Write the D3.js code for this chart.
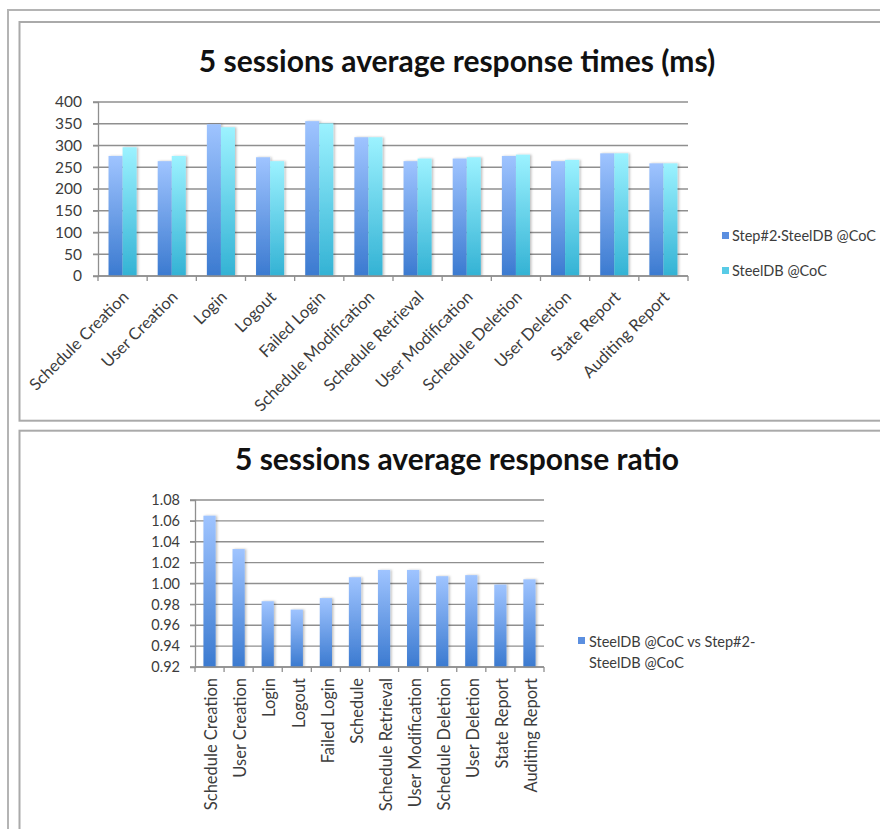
<!DOCTYPE html>
<html>
<head>
<meta charset="utf-8">
<script src="https://cdn.jsdelivr.net/npm/d3@7"></script>
<style>
  html, body { margin: 0; padding: 0; background: #fff; }
  svg { display: block; }
  text { font-family: Lato, "Open Sans", sans-serif; }
</style>
</head>
<body>
<svg id="chart" width="880" height="829"></svg>
<script>
// Operation names shared by both charts
const categories = [
  "Schedule Creation", "User Creation", "Login", "Logout", "Failed Login",
  "Schedule Modification", "Schedule Retrieval", "User Modification",
  "Schedule Deletion", "User Deletion", "State Report", "Auditing Report"
];
// Lower chart uses a shortened label for one operation
const ratioLabels = [
  "Schedule Creation", "User Creation", "Login", "Logout", "Failed Login",
  "Schedule", "Schedule Retrieval", "User Modification",
  "Schedule Deletion", "User Deletion", "State Report", "Auditing Report"
];
const seriesNames = ["Step#2·SteelDB @CoC", "SteelDB @CoC"];
// Average response times in ms
const step2Times   = [276, 264, 349, 273, 356, 319, 264, 270, 276, 264, 282, 259];
const steelTimes   = [296, 276, 342, 264, 351, 319, 270, 273, 279, 267, 282, 259];
const timeTicks    = [0, 50, 100, 150, 200, 250, 300, 350, 400];
// Response ratio SteelDB vs Step#2
const ratioName    = ["SteelDB @CoC vs Step#2-", "SteelDB @CoC"];
const ratios       = [1.065, 1.033, 0.983, 0.975, 0.986, 1.006, 1.013, 1.013, 1.007, 1.008, 0.999, 1.004];
const ratioTicks   = [0.92, 0.94, 0.96, 0.98, 1.00, 1.02, 1.04, 1.06, 1.08];

const svg = d3.select("#chart");
const defs = svg.append("defs");

function gradient(id, top, bottom) {
  const g = defs.append("linearGradient").attr("id", id)
    .attr("x1", 0).attr("y1", 0).attr("x2", 0).attr("y2", 1);
  g.append("stop").attr("offset", "0%").attr("stop-color", top);
  g.append("stop").attr("offset", "100%").attr("stop-color", bottom);
}
gradient("gBlue", "#9fc4ff", "#3b7ad0");
gradient("gCyan", "#9cf2ff", "#33b2d4");
const colors = ["url(#gBlue)", "url(#gCyan)"];
const swatch = ["#5b8fe0", "#58cbe6"];

const shadow = defs.append("filter").attr("id", "shadow")
  .attr("x", "-20%").attr("y", "-5%").attr("width", "160%").attr("height", "120%");
shadow.append("feDropShadow").attr("dx", 1.5).attr("dy", 0).attr("stdDeviation", 0.8)
  .attr("flood-color", "#000").attr("flood-opacity", 0.25);

// Page frame and chart boxes
const frameColor = "#aaaaaa";
svg.append("path").attr("d", "M8,829 V10 H880").attr("fill", "none")
  .attr("stroke", "#b4b4b4").attr("stroke-width", 2);
svg.append("rect").attr("x", 19.5).attr("y", 22).attr("width", 880).attr("height", 398.7)
  .attr("fill", "#fff").attr("stroke", frameColor).attr("stroke-width", 2);
svg.append("rect").attr("x", 19.5).attr("y", 430.7).attr("width", 880).attr("height", 420)
  .attr("fill", "#fff").attr("stroke", frameColor).attr("stroke-width", 2);

const gridColor = "#8f8f8f";
const labelColor = "#3c3c3c";
const titleSize = 30, catSize = 16.5, legendSize = 14.5;

// ---------- Chart 1: average response times ----------
{
  const g = svg.append("g");
  g.append("text").attr("x", 457).attr("y", 72).attr("text-anchor", "middle")
    .attr("font-size", titleSize).attr("font-weight", "bold").attr("fill", "#111")
    .text("5 sessions average response times (ms)");

  const x0 = d3.scaleBand().domain(categories).range([98, 688]).padding(0);
  const x1 = d3.scaleBand().domain([0, 1]).range([0, x0.bandwidth()]).paddingInner(0).paddingOuter(0.75);
  const y = d3.scaleLinear().domain([0, 400]).range([276, 102]);

  g.append("g").selectAll("line").data(timeTicks).join("line")
    .attr("x1", 93).attr("x2", 688).attr("y1", d => y(d)).attr("y2", d => y(d))
    .attr("stroke", gridColor).attr("stroke-width", 1.3);

  const yAxis = g.append("g").attr("transform", "translate(98,0)")
    .call(d3.axisLeft(y).tickValues(timeTicks).tickSize(5).tickPadding(11));
  yAxis.select(".domain").attr("stroke", gridColor).attr("stroke-width", 1.3);
  yAxis.selectAll(".tick line").attr("stroke", gridColor);
  yAxis.selectAll("text").attr("font-size", 15.5).attr("fill", labelColor)
    .attr("font-family", "Lato, sans-serif");

  const series = [step2Times, steelTimes];
  const groups = g.append("g").selectAll("g").data(categories).join("g")
    .attr("transform", c => `translate(${x0(c)},0)`);
  groups.selectAll("rect").data((c, i) => series.map((s, k) => ({ k, v: s[i] }))).join("rect")
    .attr("x", d => x1(d.k)).attr("width", x1.bandwidth())
    .attr("y", d => y(d.v)).attr("height", d => y(0) - y(d.v))
    .attr("fill", d => colors[d.k]).attr("filter", "url(#shadow)");

  // category axis with boundary ticks
  const xAxis = g.append("g");
  xAxis.append("line").attr("x1", 98).attr("x2", 688).attr("y1", 276).attr("y2", 276)
    .attr("stroke", gridColor).attr("stroke-width", 1.3);
  const bounds = categories.map(c => x0(c)).concat([x0.range()[1]]);
  xAxis.selectAll(".b").data(bounds).join("line").attr("class", "b")
    .attr("x1", d => d).attr("x2", d => d).attr("y1", 276).attr("y2", 281)
    .attr("stroke", gridColor).attr("stroke-width", 1.3);
  xAxis.selectAll("text").data(categories).join("text")
    .attr("transform", c => `translate(${x0(c) + x0.bandwidth() / 2 + 3},${294}) rotate(-45)`)
    .attr("text-anchor", "end").attr("dy", "0.35em")
    .attr("font-size", catSize).attr("fill", labelColor).text(c => c);

  const leg = g.append("g");
  seriesNames.forEach((n, k) => {
    const ly = 236 + k * 35;
    leg.append("rect").attr("x", 722).attr("y", ly - 4).attr("width", 7).attr("height", 7).attr("fill", swatch[k]);
    leg.append("text").attr("x", 732).attr("y", ly).attr("dy", "0.35em")
      .attr("font-size", legendSize).attr("fill", labelColor).text(n);
  });
}

// ---------- Chart 2: average response ratio ----------
{
  const g = svg.append("g");
  g.append("text").attr("x", 457).attr("y", 470).attr("text-anchor", "middle")
    .attr("font-size", titleSize).attr("font-weight", "bold").attr("fill", "#111")
    .text("5 sessions average response ratio");

  const x = d3.scaleBand().domain(ratioLabels).range([195, 544]).padding(0);
  const barW = x.bandwidth() * 0.42;
  const y = d3.scaleLinear().domain([0.92, 1.08]).range([667, 500]);

  g.append("g").selectAll("line").data(ratioTicks).join("line")
    .attr("x1", 190).attr("x2", 544).attr("y1", d => y(d)).attr("y2", d => y(d))
    .attr("stroke", gridColor).attr("stroke-width", 1.3);

  const yAxis = g.append("g").attr("transform", "translate(195,0)")
    .call(d3.axisLeft(y).tickValues(ratioTicks).tickFormat(d3.format(".2f")).tickSize(5).tickPadding(10));
  yAxis.select(".domain").attr("stroke", gridColor).attr("stroke-width", 1.3);
  yAxis.selectAll(".tick line").attr("stroke", gridColor);
  yAxis.selectAll("text").attr("font-size", 14.5).attr("fill", labelColor)
    .attr("font-family", "Lato, sans-serif");

  g.append("g").selectAll("rect").data(ratios).join("rect")
    .attr("x", (d, i) => x(ratioLabels[i]) + (x.bandwidth() - barW) / 2)
    .attr("width", barW)
    .attr("y", d => y(d)).attr("height", d => y(0.92) - y(d))
    .attr("fill", colors[0]).attr("filter", "url(#shadow)");

  const xAxis = g.append("g");
  xAxis.append("line").attr("x1", 195).attr("x2", 544).attr("y1", 667).attr("y2", 667)
    .attr("stroke", gridColor).attr("stroke-width", 1.3);
  const bounds = ratioLabels.map(c => x(c)).concat([x.range()[1]]);
  xAxis.selectAll(".b").data(bounds).join("line").attr("class", "b")
    .attr("x1", d => d).attr("x2", d => d).attr("y1", 667).attr("y2", 672)
    .attr("stroke", gridColor).attr("stroke-width", 1.3);
  xAxis.selectAll("text").data(ratioLabels).join("text")
    .attr("transform", c => `translate(${x(c) + x.bandwidth() / 2 + 2},${678}) rotate(-90)`)
    .attr("text-anchor", "end").attr("dy", "0.35em")
    .attr("font-size", catSize).attr("fill", labelColor).text(c => c);

  const leg = g.append("g");
  leg.append("rect").attr("x", 578).attr("y", 637).attr("width", 7).attr("height", 7).attr("fill", swatch[0]);
  ratioName.forEach((n, k) => {
    leg.append("text").attr("x", 589).attr("y", 642 + k * 21).attr("dy", "0.35em")
      .attr("font-size", legendSize).attr("fill", labelColor).text(n);
  });
}
</script>
</body>
</html>
